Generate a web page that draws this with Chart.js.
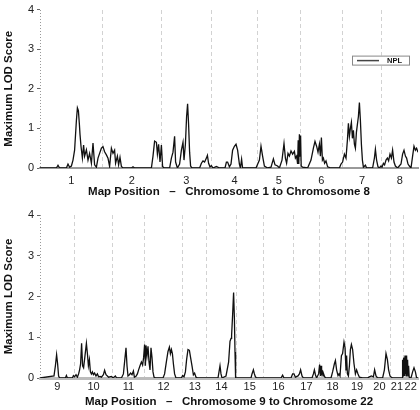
<!DOCTYPE html>
<html>
<head>
<meta charset="utf-8">
<script src="https://cdn.jsdelivr.net/npm/chart.js@4/dist/chart.umd.min.js"></script>
<style>
  body { margin: 0; background: #fff; }
  canvas { display: block; }
</style>
</head>
<body>
<canvas id="top-chart" width="420" height="200"></canvas>
<canvas id="bottom-chart" width="420" height="210"></canvas>
<script>
// 상단 패널: 염색체 1~8
let top_chroms = ['1', '2', '3', '4', '5', '6', '7', '8'];
let top_bounds = [0, 312, 607, 857, 1088, 1300, 1513, 1708, 1890];
let top_pos = [0, 82, 90, 98, 132, 140, 148, 157, 165, 173, 182, 187, 192, 197, 200, 205, 212, 218, 223, 232,
  240, 248, 257, 265, 273, 282, 290, 298, 307, 315, 323, 332, 340, 348, 357, 365, 373, 378, 387, 393,
  400, 407, 415, 457, 465, 473, 557, 565, 573, 582, 587, 593, 600, 607, 613, 620, 648, 657, 665, 673,
  678, 687, 698, 707, 715, 720, 727, 733, 738, 743, 748, 753, 760, 798, 807, 815, 823, 832, 837, 843,
  850, 857, 865, 882, 898, 925, 932, 938, 947, 955, 963, 972, 980, 988, 997, 1002, 1008, 1013, 1080, 1097,
  1105, 1113, 1122, 1138, 1155, 1167, 1175, 1188, 1197, 1210, 1220, 1227, 1233, 1240, 1247, 1255, 1263, 1272, 1277, 1283,
  1288, 1291, 1294, 1297, 1300, 1303, 1306, 1313, 1338, 1355, 1367, 1375, 1383, 1390, 1397, 1402, 1407, 1412, 1417, 1423,
  1430, 1438, 1455, 1497, 1505, 1513, 1522, 1530, 1537, 1542, 1547, 1552, 1557, 1562, 1567, 1572, 1577, 1582, 1587, 1592,
  1597, 1602, 1607, 1612, 1617, 1627, 1633, 1663, 1672, 1677, 1683, 1690, 1697, 1705, 1710, 1717, 1723, 1730, 1737, 1743,
  1750, 1757, 1763, 1770, 1777, 1788, 1805, 1813, 1820, 1827, 1833, 1840, 1847, 1855, 1863, 1870, 1877, 1883, 1890];
let top_lod = [0, 0, 0.07, 0, 0, 0.1, 0.02, 0.05, 0.2, 0.45, 1.2, 1.52, 1.45, 1.1, 0.85, 0.55, 0.25, 0.58, 0.3, 0.46,
  0.2, 0.37, 0.12, 0.63, 0.08, 0.02, 0.25, 0.37, 0.5, 0.54, 0.41, 0.33, 0.25, 0.04, 0.5, 0.37, 0.45, 0.12, 0.3, 0.08,
  0.27, 0.04, 0, 0, 0.03, 0, 0, 0.3, 0.68, 0.65, 0.35, 0.6, 0.15, 0.58, 0.04, 0, 0, 0.25, 0.4, 0.8,
  0.15, 0, 0.1, 0.45, 0.65, 0.2, 0.6, 1.3, 1.62, 1.1, 0.4, 0.05, 0, 0, 0.12, 0.18, 0.15, 0.25, 0.32, 0.12,
  0.03, 0.06, 0, 0.04, 0, 0, 0.15, 0.15, 0.03, 0.1, 0.45, 0.55, 0.6, 0.45, 0.1, 0, 0.22, 0, 0, 0.2,
  0.55, 0.3, 0.05, 0, 0.02, 0.23, 0.08, 0.05, 0, 0.2, 0.62, 0.25, 0.12, 0.37, 0.3, 0.43, 0.35, 0.42, 0.25, 0.3,
  0.1, 0.7, 0.1, 0.85, 0.3, 0.82, 0.05, 0.02, 0, 0.2, 0.5, 0.67, 0.55, 0.4, 0.6, 0.3, 0.77, 0.2, 0.25, 0.12,
  0.18, 0.03, 0, 0, 0.1, 0.15, 0.35, 0.25, 0.7, 1.13, 0.8, 1.0, 1.15, 0.75, 0.95, 0.6, 0.5, 0.9, 1.1, 1.3,
  1.65, 1.2, 0.6, 0.2, 0.02, 0.07, 0, 0, 0.25, 0.47, 0.2, 0.03, 0, 0.05, 0.02, 0.12, 0.08, 0.2, 0.25, 0.18,
  0.35, 0.25, 0.45, 0.15, 0.05, 0, 0.1, 0.35, 0.45, 0.3, 0.25, 0.1, 0.05, 0, 0.3, 0.55, 0.45, 0.5, 0.4];

// 하단 패널: 염색체 9~22
let bottom_chroms = ['9', '10', '11', '12', '13', '14', '15', '16', '17', '18', '19', '20', '21', '22'];
let bottom_bounds = [0, 174, 362, 522, 714, 834, 980, 1117, 1267, 1397, 1528, 1642, 1752, 1817, 1890];
let bottom_pos = [0, 70, 77, 83, 88, 93, 98, 127, 132, 137, 162, 167, 173, 180, 187, 193, 198, 203, 208, 213,
  218, 225, 232, 237, 242, 247, 252, 257, 262, 267, 273, 280, 287, 293, 300, 307, 317, 323, 330, 337,
  343, 357, 365, 377, 383, 407, 417, 423, 430, 435, 440, 447, 453, 460, 467, 472, 480, 487, 493, 500,
  507, 513, 518, 523, 527, 530, 535, 540, 545, 550, 555, 560, 565, 570, 577, 615, 623, 632, 640, 647,
  652, 657, 662, 667, 673, 680, 707, 713, 720, 727, 733, 740, 747, 753, 760, 767, 773, 780, 787, 890,
  895, 900, 905, 910, 930, 943, 950, 955, 958, 963, 968, 972, 975, 978, 1055, 1060, 1067, 1072, 1077, 1083,
  1205, 1213, 1220, 1255, 1263, 1270, 1277, 1290, 1297, 1303, 1310, 1317, 1360, 1367, 1372, 1377, 1383, 1393, 1398, 1402,
  1405, 1408, 1412, 1415, 1418, 1423, 1430, 1455, 1463, 1472, 1477, 1483, 1490, 1495, 1500, 1507, 1513, 1520, 1525, 1530,
  1533, 1537, 1542, 1547, 1552, 1557, 1563, 1570, 1577, 1583, 1590, 1597, 1613, 1638, 1647, 1657, 1667, 1673, 1680, 1688,
  1713, 1722, 1730, 1737, 1743, 1750, 1757, 1763, 1810, 1813, 1815, 1817, 1819, 1821, 1823, 1825, 1827, 1829, 1831, 1833,
  1835, 1838, 1840, 1843, 1846, 1855, 1863, 1870, 1877, 1883, 1890];
let bottom_lod = [0, 0.05, 0.3, 0.57, 0.35, 0.05, 0, 0, 0.06, 0, 0, 0.06, 0.03, 0.08, 0.02, 0.1, 0.2, 0.35, 0.85, 0.3,
  0.25, 0.55, 0.85, 0.6, 0.3, 0.45, 0.15, 0.1, 0.15, 0.08, 0.12, 0.05, 0.1, 0.03, 0.04, 0.02, 0.08, 0.19, 0.08, 0.05,
  0.02, 0.04, 0, 0.05, 0, 0, 0.1, 0.4, 0.74, 0.3, 0.05, 0.08, 0.12, 0.08, 0.17, 0.02, 0.04, 0.1, 0.2, 0.3,
  0.39, 0.32, 0.5, 0.82, 0.3, 0.8, 0.55, 0.78, 0.4, 0.2, 0.74, 0.5, 0.15, 0.02, 0, 0, 0.1, 0.4, 0.65, 0.76,
  0.6, 0.7, 0.6, 0.35, 0.1, 0, 0, 0.06, 0.03, 0.15, 0.45, 0.7, 0.68, 0.5, 0.3, 0.08, 0.12, 0.02, 0, 0,
  0.15, 0.3, 0.1, 0, 0.05, 0.39, 0.9, 0.97, 1.05, 1.54, 2.1, 1.46, 0.64, 0, 0, 0.1, 0.2, 0.1, 0.03, 0,
  0, 0.07, 0, 0, 0.1, 0.1, 0.02, 0.05, 0.1, 0.2, 0.05, 0, 0, 0.1, 0.2, 0.08, 0, 0.1, 0.33, 0.05,
  0.3, 0.1, 0.15, 0.05, 0.1, 0.03, 0, 0, 0.15, 0.35, 0.43, 0.2, 0.06, 0.1, 0.05, 0.55, 0.6, 0.88, 0.75, 0.2,
  0.55, 0.1, 0.05, 0.3, 0.7, 0.82, 0.7, 0.35, 0.1, 0.2, 0.1, 0.02, 0, 0, 0.03, 0.05, 0.03, 0.2, 0.05, 0,
  0, 0.2, 0.6, 0.45, 0.2, 0.05, 0.02, 0, 0, 0.45, 0.05, 0.5, 0.1, 0.5, 0.05, 0.55, 0.1, 0.52, 0.05, 0.55,
  0.1, 0.45, 0.05, 0.3, 0.02, 0, 0.15, 0.25, 0.15, 0, 0];

let font_family = '"Liberation Sans", Arial, Helvetica, sans-serif';

// 범례 박스 (NPL) - 상단 차트에만
const legendBox = {
  id: 'legendBox',
  afterDraw(chart) {
    const ctx = chart.ctx;
    const area = chart.chartArea;
    const bw = 57, bh = 9;
    const bx = area.right - 66, by = area.top + 46;
    ctx.save();
    ctx.fillStyle = '#fff';
    ctx.fillRect(bx, by, bw, bh);
    ctx.strokeStyle = '#888';
    ctx.lineWidth = 1;
    ctx.strokeRect(bx + 0.5, by + 0.5, bw, bh);
    ctx.strokeStyle = '#444';
    ctx.lineWidth = 1.5;
    ctx.beginPath();
    ctx.moveTo(bx + 5, by + 5);
    ctx.lineTo(bx + 27, by + 5);
    ctx.stroke();
    ctx.fillStyle = '#111';
    ctx.font = 'bold 7.5px ' + font_family;
    ctx.textBaseline = 'middle';
    ctx.fillText(chart.data.datasets[0].label, bx + 35, by + 5.5);
    ctx.restore();
  }
};

function draw_panel(canvas_id, pos, lod, chroms, bounds, title, pad_top, tick_pad, base_line, with_legend) {
  let centers = [];
  for (let i = 0; i < chroms.length; i++) {
    centers[i] = (bounds[i] + bounds[i + 1]) / 2;
  }
  let pts = pos.map((p, i) => ({ x: p, y: lod[i] }));
  let x_max = bounds[bounds.length - 1];

  return new Chart(document.getElementById(canvas_id).getContext('2d'), {
    type: 'line',
    data: {
      datasets: [{
        label: 'NPL',
        data: pts,
        xAxisID: 'x',
        yAxisID: 'y',
        borderColor: '#111',
        borderWidth: 1.3,
        pointRadius: 0,
        tension: 0,
        fill: false
      }]
    },
    options: {
      responsive: false,
      animation: false,
      layout: { padding: { top: pad_top, right: 2, left: 0, bottom: 0 } },
      plugins: {
        legend: { display: false },
        tooltip: { enabled: false }
      },
      scales: {
        x: {
          type: 'linear',
          position: 'bottom',
          min: 0,
          max: x_max,
          afterBuildTicks: axis => { axis.ticks = centers.map(v => ({ value: v })); },
          afterFit: axis => { axis.height = 32; },
          grid: { display: false, drawTicks: false },
          border: { display: true, color: base_line.color, width: base_line.width },
          ticks: {
            autoSkip: false,
            maxRotation: 0,
            padding: tick_pad,
            color: '#222',
            font: { family: font_family, size: 11 },
            callback: (v, i) => chroms[i]
          },
          title: {
            display: true,
            text: title,
            color: '#111',
            font: { family: font_family, size: 11.5, weight: 'bold' },
            padding: { top: 0, bottom: 1 }
          }
        },
        // 염색체 경계 점선 (첫 번째는 y축 점선)
        xb: {
          type: 'linear',
          position: 'top',
          min: 0,
          max: x_max,
          afterBuildTicks: axis => { axis.ticks = bounds.slice(0, -1).map(v => ({ value: v })); },
          afterFit: axis => { axis.height = 0; },
          ticks: { display: false },
          grid: {
            drawTicks: false,
            lineWidth: 1,
            color: ctx => ctx.index === 0 ? '#999' : '#d2d2d2'
          },
          border: {
            display: false,
            dash: ctx => ctx.index === 0 ? [1, 2] : [4, 3]
          }
        },
        y: {
          min: 0,
          max: 4,
          afterFit: axis => { axis.width = 40; },
          ticks: {
            stepSize: 1,
            padding: 3,
            color: '#222',
            font: { family: font_family, size: 11 }
          },
          grid: { drawOnChartArea: false, drawTicks: true, tickLength: 3, tickColor: '#666' },
          border: { display: false },
          title: {
            display: true,
            text: 'Maximum LOD Score',
            color: '#111',
            font: { family: font_family, size: 11.5, weight: 'bold' },
            padding: { top: 2, bottom: 0 }
          }
        }
      }
    },
    plugins: with_legend ? [legendBox] : []
  });
}

draw_panel('top-chart', top_pos, top_lod, top_chroms, top_bounds,
  'Map Position   \u2013   Chromosome 1 to Chromosome 8', 6, 6, { color: '#999', width: 2 }, true);
draw_panel('bottom-chart', bottom_pos, bottom_lod, bottom_chroms, bottom_bounds,
  'Map Position   \u2013   Chromosome 9 to Chromosome 22', 15, 2, { color: '#bbb', width: 3 }, false);
</script>
</body>
</html>
